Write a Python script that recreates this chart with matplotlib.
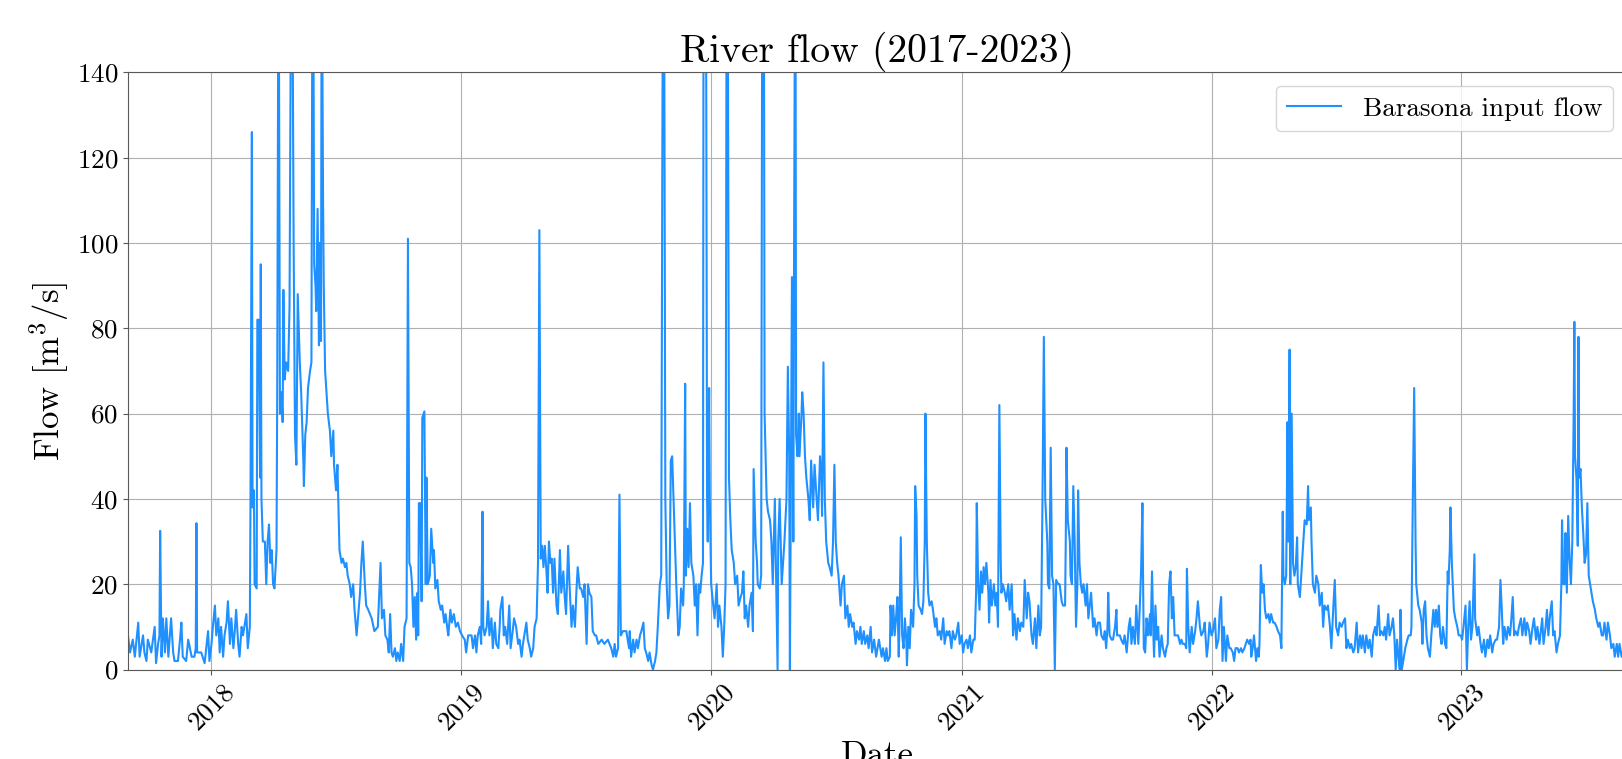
import pandas as pd
import matplotlib
matplotlib.use("Agg")
import matplotlib.pyplot as plt

plt.rcParams["font.family"] = "serif"
plt.rcParams["font.serif"] = ["cmr10"]
plt.rcParams["mathtext.fontset"] = "cm"
plt.rcParams["axes.unicode_minus"] = False
plt.rcParams["axes.formatter.use_mathtext"] = True

start = "2017-09-01"

# (days since start, flow m3/s), one list per stretch
flow_1718 = [(0,8),(3,4),(7,7),(10,3),(15,11),(17,3),(22,8),(24,4),(27,2),(29,7),(34,4),(39,10),(41,1.5),(44,6),(46,8),(47,32.5),(49,3),(51,12),(54,4),(56,12),(59,3),(63,12),(66,4),(68,2),(73,2),(76,7),(78,11),(80,3),(85,2),(88,7),(93,3),(97,3),(99,5),(100,34.3),(101,4),(107,4),(112,1.5),(117,9),(119,2),(122,6),(124,10),(127,15),(129,8),(132,12),(134,4),(136,10),(139,3),(141,8),(144,11),(146,16),(149,6),(151,12),(154,5),(156,9),(158,14),(161,6),(163,3),(166,10),(168,8),(173,13),(175,5),(178,10),(179,40),(181,126),(182,38),(184,42),(185,20),(188,19),(189,82),(191,82),(193,45),(194,95),(195,40),(197,30),(200,30),(202,20),(204,30),(206,34),(208,25),(210,28),(212,20),(214,19),(217,28),(218,64),(220,180),(222,60),(224,65),(226,58),(227,89),(229,68),(231,72),(234,70),(236,85),(239,190),(240,170),(242,100),(244,55),(246,48),(248,88),(251,72),(253,65),(256,50),(257,43),(259,55),(261,58),(263,66),(266,70),(268,72),(270,200),(272,95),(274,90),(275,84),(277,108),(279,76),(280,100),(282,77),(283,175),(285,110),(286,90),(288,70),(290,65),(292,60),(295,56),(297,50),(300,56),(301,48),(304,42),(306,48),(308,35),(309,28),(312,25),(314,26),(317,24),(319,25),(321,22),(324,20),(326,17),(329,20),(331,14),(334,8),(336,12),(339,18),(341,25),(343,30),(346,20),(348,15),(351,14),(356,12),(360,9),(365,10)]

flow_1819 = [(369,25),(371,12),(374,14),(376,8),(379,7),(381,4),(383,13),(385,4),(387,3),(390,5),(392,2),(394,4),(397,2),(399,6),(402,2),(404,10),(407,12),(409,101),(411,25),(413,24),(415,20),(417,10),(419,17),(421,7),(423,18),(424,8),(425,39),(427,39),(429,16),(430,59),(432,60),(433,60.5),(435,20),(436,45),(438,20),(441,22),(443,33),(446,25),(447,28),(449,19),(452,21),(454,16),(457,14),(459,15),(462,11),(464,13),(467,9),(468,8),(471,14),(473,11),(476,13),(479,10),(482,11),(485,9),(488,8),(492,7),(494,4),(497,8),(502,8),(504,5),(507,8),(509,4),(511,8),(514,10),(516,6),(518,37),(519,10),(521,8),(524,10),(526,16),(528,8),(531,12),(533,5),(536,11),(538,6),(541,5),(543,10),(544,14),(547,17),(549,8),(551,10),(554,6),(557,15),(559,5),(562,9),(564,12),(567,10),(570,6),(572,7),(575,3),(577,6),(580,9),(582,11),(584,7),(587,5),(589,3),(592,5),(594,10),(597,12),(599,25),(601,103),(603,26),(605,29),(607,24),(609,29),(611,24),(613,18),(615,30),(617,25),(619,26),(621,18),(623,26),(626,15),(628,13),(631,28),(633,18),(636,23),(638,17),(640,13),(643,29),(645,20),(648,10),(650,15),(653,10),(655,18),(657,24),(660,19),(662,19),(665,17),(667,20),(670,6),(672,20),(674,18),(677,17),(679,9),(682,8),(684,8),(687,6),(692,7),(696,6),(701,7),(706,5),(709,3),(711,6),(713,3),(716,5),(718,41),(720,8),(723,9),(728,9),(732,5)]

flow_1920 = [(733,9),(735,3),(738,7),(740,4),(743,7),(745,5),(748,8),(750,9),(753,11),(755,5),(757,4),(760,2),(762,4),(765,1),(767,0),(770,2),(772,4),(774,10),(777,20),(779,22),(782,200),(783,180),(785,40),(787,20),(789,12),(791,15),(793,49),(795,50),(797,40),(799,30),(801,20),(804,8),(806,10),(808,19),(811,15),(812,20),(814,67),(815,22),(817,33),(819,24),(821,39),(823,25),(826,22),(828,15),(830,20),(832,8),(834,20),(836,18),(838,22),(840,25),(841,190),(842,170),(844,200),(846,40),(847,30),(849,66),(850,40),(852,20),(855,15),(857,12),(860,20),(862,10),(864,15),(867,10),(869,3),(871,10),(873,20),(875,210),(876,180),(878,45),(880,35),(882,28),(885,25),(887,20),(890,22),(892,15),(895,17),(897,18),(899,23),(901,12),(903,15),(906,10),(908,15),(911,18),(913,9),(914,47),(917,30),(919,25),(920,20),(923,19),(925,22),(927,200),(929,170),(930,60),(933,40),(935,37),(938,35),(940,30),(942,20),(945,40),(947,20),(949,0),(950,30),(952,40),(955,20),(957,25),(959,30),(962,40),(964,71),(966,50),(967,0),(969,60),(970,92),(972,30),(973,93),(975,190),(976,55),(978,50),(980,60),(981,50),(984,60),(985,65),(987,60),(989,50),(991,45),(994,40),(996,35),(998,49),(1001,38),(1003,48),(1006,40),(1008,35),(1011,50),(1013,45),(1014,36),(1016,72),(1018,40),(1020,30),(1023,25),(1025,24),(1028,22),(1030,30),(1032,48),(1034,30),(1036,25),(1038,22),(1041,15),(1043,20),(1046,22),(1048,12),(1051,15),(1053,10),(1055,13),(1058,10),(1060,11),(1063,6),(1065,9),(1068,7),(1070,10),(1072,6),(1075,9),(1077,6),(1080,8),(1082,5),(1085,10),(1087,4),(1090,7),(1093,3),(1097,7)]

flow_2021 = [(1098,6),(1101,3),(1103,5),(1106,2),(1108,5),(1110,2),(1113,3),(1114,15),(1116,8),(1118,15),(1120,8),(1122,12),(1124,17),(1126,3),(1127,10),(1129,31),(1131,8),(1133,5),(1135,12),(1137,7),(1138,1),(1140,10),(1142,5),(1144,14),(1147,10),(1149,20),(1150,43),(1152,36),(1153,22),(1155,15),(1158,14),(1160,13),(1162,16),(1164,30),(1165,60),(1167,30),(1169,18),(1171,15),(1174,16),(1176,14),(1179,10),(1181,12),(1183,8),(1186,9),(1188,7),(1191,12),(1193,6),(1196,9),(1198,8),(1200,9),(1203,5),(1205,9),(1208,7),(1210,8),(1213,11),(1215,6),(1218,8),(1220,4),(1222,6),(1225,7),(1227,5),(1230,8),(1232,4),(1235,7),(1237,7),(1239,18),(1240,39),(1242,20),(1244,14),(1246,23),(1248,18),(1250,24),(1252,20),(1254,25),(1257,18),(1258,11),(1260,21),(1262,15),(1265,20),(1267,15),(1269,18),(1271,10),(1273,62),(1275,25),(1276,18),(1278,20),(1281,18),(1283,16),(1286,20),(1288,14),(1291,20),(1293,8),(1295,13),(1298,7),(1300,12),(1303,9),(1305,11),(1308,10),(1310,21),(1313,12),(1315,18),(1317,16),(1320,8),(1322,6),(1325,12),(1327,5),(1330,15),(1332,8),(1334,10),(1336,40),(1338,78),(1340,40),(1343,30),(1344,20),(1346,19),(1348,52),(1350,22),(1352,20),(1354,0),(1356,21),(1359,20),(1361,20),(1364,16),(1366,15),(1369,15),(1370,30),(1371,52),(1373,35),(1376,30),(1377,22),(1379,20),(1381,43),(1383,30),(1385,10),(1387,20),(1388,42),(1390,25),(1392,20),(1394,18),(1396,20),(1399,15),(1401,20),(1403,12),(1405,15),(1407,18),(1410,10),(1412,12),(1415,8),(1417,11),(1420,11),(1422,8),(1425,7),(1427,9),(1429,5),(1431,10),(1432,18),(1434,8),(1437,7),(1439,7),(1442,10),(1444,14),(1445,8),(1449,8),(1451,7),(1454,6),(1456,8),(1459,4),(1462,10)]

flow_2122 = [(1464,12),(1466,6),(1468,10),(1471,6),(1473,15),(1476,6),(1478,14),(1480,23),(1482,39),(1483,20),(1484,5),(1486,4),(1488,12),(1490,8),(1493,13),(1494,8),(1496,23),(1498,8),(1499,3),(1501,15),(1503,7),(1505,10),(1507,3),(1510,8),(1512,5),(1515,3),(1517,5),(1519,6),(1521,20),(1523,23),(1525,12),(1527,17),(1529,8),(1532,8),(1534,8),(1537,6),(1539,7),(1541,6),(1544,6),(1546,5),(1547,23.6),(1549,10),(1551,4),(1554,10),(1556,6),(1559,9),(1561,12),(1563,16),(1566,10),(1568,8),(1571,9),(1573,11),(1576,3),(1578,6),(1580,11),(1583,8),(1585,9),(1588,12),(1590,5),(1593,7),(1595,14),(1597,17),(1599,2),(1601,10),(1604,2),(1606,8),(1609,5),(1611,5),(1614,4),(1616,2),(1618,5),(1621,5),(1623,4),(1626,5),(1628,4),(1631,5),(1633,6),(1635,7),(1638,6),(1640,7),(1641,3),(1643,5),(1645,8),(1648,2),(1650,5),(1652,3),(1653,6),(1655,24.5),(1657,18),(1659,20),(1661,14),(1663,12),(1666,13),(1668,11),(1670,13),(1673,11),(1675,11),(1678,10),(1680,9),(1683,8),(1685,5),(1687,37),(1688,22),(1690,20),(1692,22),(1694,58),(1695,30),(1697,75),(1698,20),(1700,60),(1702,25),(1704,22),(1706,24),(1708,31),(1709,20),(1712,17),(1714,22),(1717,30),(1719,35),(1722,34),(1724,43),(1725,35),(1728,38),(1729,30),(1731,20),(1734,18),(1736,22),(1739,20),(1741,15),(1744,18),(1746,10),(1748,15),(1751,14),(1753,15),(1756,10),(1758,5),(1761,15),(1763,21),(1765,10),(1768,8),(1770,11),(1773,10),(1775,11),(1778,12),(1780,5),(1782,7),(1785,5),(1787,6),(1790,4),(1792,5),(1795,11),(1797,4),(1800,8),(1802,5),(1804,8),(1807,4),(1809,8),(1812,5),(1814,7),(1817,3),(1819,8),(1822,10),(1824,8),(1827,15)]

flow_2223 = [(1829,8),(1831,9),(1834,8),(1836,10),(1838,7),(1841,13),(1843,8),(1846,10),(1848,12),(1850,8),(1852,0),(1854,7),(1856,3),(1858,0),(1859,14),(1861,0),(1864,3),(1866,5),(1869,7),(1871,8),(1874,8),(1875,10),(1877,40),(1879,66),(1881,30),(1882,20),(1885,15),(1887,14),(1890,11),(1891,6),(1893,14),(1895,16),(1897,8),(1899,5),(1902,3),(1904,8),(1907,14),(1909,10),(1911,14),(1913,10),(1915,15),(1917,8),(1919,6),(1921,10),(1924,6),(1926,5),(1928,23),(1929,20),(1931,28),(1932,38),(1934,25),(1937,14),(1939,12),(1942,10),(1944,8),(1947,8),(1949,7),(1951,10),(1954,15),(1956,0),(1958,10),(1960,16),(1962,7),(1964,10),(1967,27),(1968,12),(1971,8),(1973,10),(1976,6),(1978,4),(1981,7),(1983,3),(1986,7),(1988,5),(1990,8),(1993,4),(1995,6),(1998,7),(2000,7),(2003,10),(2005,21),(2007,14),(2009,6),(2011,10),(2014,7),(2016,10),(2019,8),(2021,12),(2023,17),(2025,8),(2027,9),(2030,8),(2032,10),(2035,12),(2037,8),(2040,12),(2042,8),(2044,11),(2047,9),(2049,6),(2052,10),(2054,12),(2057,7),(2059,10),(2062,6),(2064,9),(2066,12),(2068,6),(2071,10),(2073,14),(2075,8),(2077,12),(2080,16),(2082,8),(2084,9),(2087,4),(2089,6),(2092,8),(2094,20),(2095,35),(2097,20),(2099,20),(2100,32),(2102,18),(2104,36),(2106,26),(2108,20),(2110,30),(2112,60),(2113,81.5),(2114,50),(2116,45),(2118,29),(2119,78),(2120,45),(2122,47),(2124,38),(2126,32),(2128,25),(2130,27),(2132,39),(2134,22),(2136,20),(2138,18),(2140,16),(2143,14),(2145,12),(2148,10),(2150,11),(2153,8),(2155,8),(2157,11),(2160,7),(2162,11),(2165,8),(2167,5),(2170,6),(2172,3),(2175,6),(2177,3),(2179,6),(2182,3),(2185,5),(2189,4)]

rows = flow_1718 + flow_1819 + flow_1920 + flow_2021 + flow_2122 + flow_2223
df = pd.DataFrame(rows, columns=["day", "flow"])
df["date"] = pd.Timestamp(start) + pd.to_timedelta(df["day"], unit="D")

fig = plt.figure(figsize=(16.22, 7.59), dpi=100)
# axes runs a little past the right edge, as in the original crop
ax = fig.add_axes([0.0789, 0.1179, 0.9238, 0.7868])

ax.plot(df["date"], df["flow"], color="dodgerblue", lw=1.5, label="Barasona input flow")
ax.set_xlim(df["date"].iloc[0], df["date"].iloc[-1])
ax.set_ylim(0, 140)
ax.grid(True)
for s in ax.spines.values():
    s.set_color("0.35")
ax.tick_params(colors="0.35", labelcolor="black", labelsize=19.5)
plt.setp(ax.get_xticklabels(), rotation=45)

ax.set_title("River flow (2017-2023)", fontsize=28.5)
ax.set_ylabel("Flow [m$^3$/s]", fontsize=25)
ax.set_xlabel("Date", fontsize=25)
ax.legend(loc="upper right", fontsize=19.5)

fig.savefig("out.png", dpi=100)
plt.close(fig)
